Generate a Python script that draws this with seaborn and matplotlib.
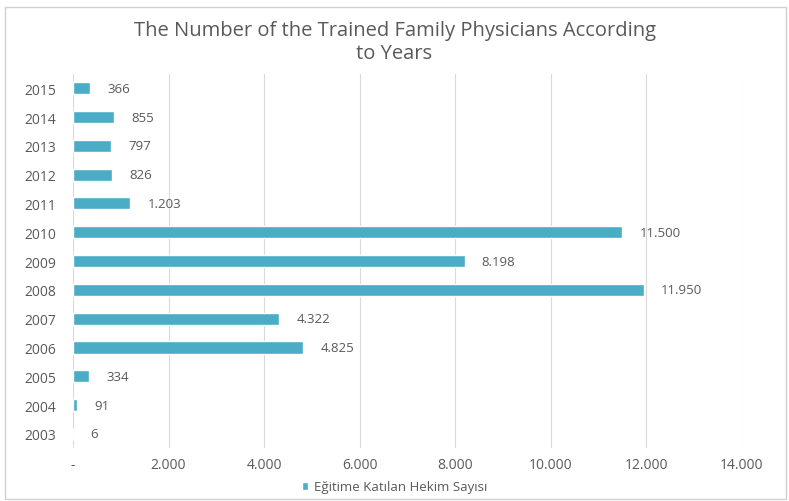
import matplotlib.pyplot as plt
import seaborn as sns
import pandas as pd
from matplotlib.patches import Rectangle

years = ['2015', '2014', '2013', '2012', '2011', '2010', '2009',
         '2008', '2007', '2006', '2005', '2004', '2003']
physicians = [366, 855, 797, 826, 1203, 11500, 8198,
              11950, 4322, 4825, 334, 91, 6]
x_ticks = [0, 2000, 4000, 6000, 8000, 10000, 12000, 14000]
x_tick_labels = ['-', '2.000', '4.000', '6.000', '8.000', '10.000', '12.000', '14.000']
series_name = 'Eğitime Katılan Hekim Sayısı'
title = 'The Number of the Trained Family Physicians According\nto Years'

df = pd.DataFrame({'year': years, 'count': physicians})

sns.set_theme(style='white')
plt.rcParams['font.family'] = ['Open Sans', 'DejaVu Sans']

bar_color = '#4BACC6'
text_color = '#595959'

fig = plt.figure(figsize=(7.89, 5.02), dpi=100)
ax = fig.add_axes([0.0925, 0.105, 0.8475, 0.746])

sns.barplot(data=df, x='count', y='year', order=years, orient='h',
            color=bar_color, width=0.42, saturation=1, ax=ax,
            label=series_name)

# data labels, dot as thousands separator
for i, v in enumerate(physicians):
    ax.text(v + 360, i, f'{v:,}'.replace(',', '.'), va='center', ha='left',
            fontsize=9.5, color=text_color)

ax.set_xlim(0, 14000)
ax.set_xticks(x_ticks)
ax.set_xticklabels(x_tick_labels, fontsize=10, color=text_color)
ax.tick_params(axis='y', labelsize=10, labelcolor=text_color, length=0, pad=12)
ax.tick_params(axis='x', length=0, pad=6)
ax.set_xlabel('')
ax.set_ylabel('')
ax.xaxis.grid(True, color='#D9D9D9', linewidth=0.8)
ax.set_axisbelow(True)
for s in ax.spines.values():
    s.set_visible(False)

fig.suptitle(title, y=0.958, va='top', fontsize=14.5, color=text_color, linespacing=1.2)

ax.legend(loc='center', bbox_to_anchor=(0.5, 0.028), bbox_transform=fig.transFigure,
          frameon=False, fontsize=9.5, labelcolor=text_color,
          handlelength=0.5, handleheight=0.5, handletextpad=0.4)

# outer chart border
fig.patches.append(Rectangle((0.006, 0.004), 0.99, 0.98, transform=fig.transFigure,
                             fill=False, edgecolor='#D0D0D0', linewidth=1))

fig.savefig('out.png', dpi=100)
